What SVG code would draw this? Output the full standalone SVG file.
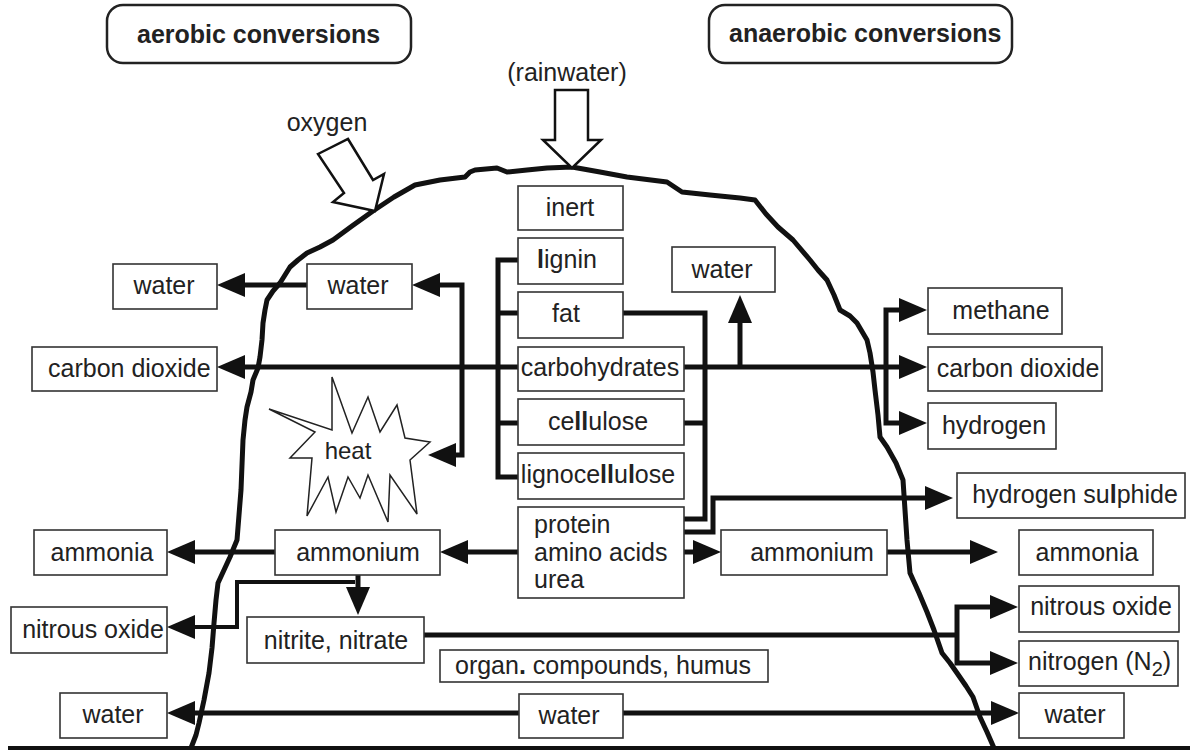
<svg xmlns="http://www.w3.org/2000/svg" width="1190" height="750" viewBox="0 0 1190 750">
<style>
text{font-family:"Liberation Sans",Arial,sans-serif;font-size:25px;fill:#222}
.hd{font-weight:bold;font-size:25px}
.box{fill:#fff;stroke:#333;stroke-width:1.6}
.hbox{fill:#fff;stroke:#222;stroke-width:2.5}
.c{fill:none;stroke:#111;stroke-width:5;stroke-linejoin:miter;stroke-linecap:butt}
.m{text-anchor:middle}
.b{font-weight:bold}
</style>
<defs>
<marker id="ah" viewBox="0 0 28 24" refX="18" refY="12" markerWidth="28" markerHeight="24" markerUnits="userSpaceOnUse" orient="auto-start-reverse">
<path d="M0,0 L28,12 L0,24 z" fill="#111"/>
</marker>
</defs>
<rect width="1190" height="750" fill="#fff"/>

<g id="heap">
<path d="M191,748 L196,735 L199,723 L204,700 L209,673 L212,648 L214,623 L216,600 L218,583 L224,570 L230,557 L237,540 L239,515 L241,490 L242,465 L243,440 L245,420 L247,407 L251,392 L253,380 L258,368 L260,357 L262,340 L263,323 L265,310 L267,300 L273,291 L280,283 L285,275 L290,267 L298,260 L307,253 L320,247 L333,240 L352,226 L373,211 L394,197 L415,185 L440,180 L465,177 L470,172 L475,170 L497,168 L507,172 L527,170 L547,168 L572,167 L600,172 L627,177 L667,182 L682,192 L710,195 L740,198 L755,200 L766,214 L778,227 L793,240 L810,260 L818,270 L827,280 L834,295 L840,310 L850,316 L857,323 L867,340 L870,353 L873,372 L875,390 L878,415 L880,437 L887,447 L896,463 L903,480 L905,510 L907,540 L910,573 L919,593 L927,612 L934,630 L942,653 L950,663 L957,673 L966,686 L973,697 L980,717 L987,732 L994,748" fill="none" stroke="#111" stroke-width="5" stroke-linejoin="round"/>
<path d="M8,748 L1190,748" stroke="#111" stroke-width="4"/>
</g>

<g id="inputs">
<text class="m" x="567" y="81">(rainwater)</text>
<polygon points="555,90 588,90 588,140 601,140 572,168 543,140 555,140" fill="#fff" stroke="#111" stroke-width="2.5" stroke-linejoin="miter"/>
<text class="m" x="327" y="131">oxygen</text>
<polygon points="318,154 348,139 373,180 384,174 375,211 333,202 344,193" fill="#fff" stroke="#111" stroke-width="2.5" stroke-linejoin="miter"/>
</g>

<g id="connectors">
<path class="c" d="M307,285 L227,285" marker-end="url(#ah)"/>
<path class="c" d="M422,285 L462,285 L462,455 L438,455" marker-start="url(#ah)" marker-end="url(#ah)"/>
<path class="c" d="M227,367 L917,367" marker-start="url(#ah)" marker-end="url(#ah)"/>
<path class="c" d="M740,367 L740,305" marker-end="url(#ah)"/>
<path class="c" d="M917,310 L886,310 L886,423 L917,423" marker-start="url(#ah)" marker-end="url(#ah)"/>
<path class="c" d="M518,260 L498,260 L498,477 L518,477"/>
<path class="c" d="M498,313 L518,313"/>
<path class="c" d="M498,423 L518,423"/>
<path class="c" d="M623,313 L705,313 L705,519 L684,519"/>
<path class="c" d="M684,423 L705,423"/>
<path class="c" d="M684,532 L713,532 L713,498 L943,498" marker-end="url(#ah)"/>
<path class="c" d="M518,552 L450,552" marker-end="url(#ah)"/>
<path class="c" d="M275,552 L177,552" marker-end="url(#ah)"/>
<path class="c" d="M684,552 L711,552" marker-end="url(#ah)"/>
<path class="c" d="M887,552 L988,552" marker-end="url(#ah)"/>
<path class="c" d="M355,582 L237,582 L237,627 L177,627" style="stroke-width:4" marker-end="url(#ah)"/>
<path class="c" d="M358,575 L358,605" marker-end="url(#ah)"/>
<path class="c" d="M424,635 L957,635"/>
<path class="c" d="M1008,607 L957,607 L957,663 L1008,663" marker-start="url(#ah)" marker-end="url(#ah)"/>
<path class="c" d="M177,713 L1009,713" marker-start="url(#ah)" marker-end="url(#ah)"/>
</g>

<g id="aerobic-label"><rect class="hbox" x="107" y="5" width="304" height="58" rx="16"/><text class="hd" x="137" y="43">aerobic conversions</text></g>
<g id="anaerobic-label"><rect class="hbox" x="709" y="5" width="303" height="58" rx="16"/><text class="hd" x="729" y="42">anaerobic conversions</text></g>

<g id="heat"><polygon points="332,377 352,433 368,397 380,432 397,405 405,438 430,442 410,460 417,514 390,475 388,522 368,475 360,498 348,477 336,512 328,477 307,516 312,458 290,458 315,432 269,409 332,430" fill="#fff" stroke="#222" stroke-width="1.5"/><text class="m" x="348" y="459" style="font-size:24px">heat</text></g>

<g id="inert"><rect class="box" x="518" y="186" width="105" height="44"/><text class="m" x="570" y="216">inert</text></g>
<g id="lignin"><rect class="box" x="518" y="238" width="105" height="46"/><text class="m" x="567" y="268"><tspan class="b">l</tspan>ignin</text></g>
<g id="fat"><rect class="box" x="518" y="292" width="105" height="46"/><text class="m" x="566" y="322">fat</text></g>
<g id="carbohydrates"><rect class="box" x="518" y="347" width="166" height="44"/><text class="m" x="600" y="376">carbohydrates</text></g>
<g id="cellulose"><rect class="box" x="518" y="399" width="166" height="46"/><text class="m" x="598" y="430">ce<tspan class="b">ll</tspan>ulose</text></g>
<g id="lignocellulose"><rect class="box" x="518" y="453" width="166" height="46"/><text class="m" x="598" y="483">lignoce<tspan class="b">ll</tspan>u<tspan class="b">l</tspan>ose</text></g>
<g id="protein"><rect class="box" x="518" y="507" width="166" height="91"/><text x="534" y="533">protein</text><text x="534" y="561">amino acids</text><text x="534" y="588">urea</text></g>
<g id="water-top"><rect class="box" x="672" y="247" width="103" height="45"/><text class="m" x="722" y="278">water</text></g>

<g id="water-outer-left"><rect class="box" x="113" y="264" width="104" height="45"/><text class="m" x="164" y="294">water</text></g>
<g id="water-inner-left"><rect class="box" x="307" y="264" width="105" height="45"/><text class="m" x="358" y="294">water</text></g>
<g id="carbon-dioxide-left"><rect class="box" x="32" y="347" width="185" height="44"/><text x="48" y="377">carbon dioxide</text></g>

<g id="methane"><rect class="box" x="928" y="288" width="134" height="46"/><text class="m" x="1001" y="319">methane</text></g>
<g id="carbon-dioxide-right"><rect class="box" x="928" y="347" width="174" height="44"/><text class="m" x="1018" y="377">carbon dioxide</text></g>
<g id="hydrogen"><rect class="box" x="928" y="403" width="128" height="46"/><text class="m" x="994" y="434">hydrogen</text></g>
<g id="hydrogen-sulphide"><rect class="box" x="957" y="473" width="228" height="45"/><text class="m" x="1075" y="503">hydrogen su<tspan class="b">l</tspan>phide</text></g>

<g id="ammonia-left"><rect class="box" x="34" y="530" width="133" height="45"/><text class="m" x="102" y="561">ammonia</text></g>
<g id="ammonium-left"><rect class="box" x="275" y="530" width="165" height="45"/><text class="m" x="358" y="561">ammonium</text></g>
<g id="ammonium-right"><rect class="box" x="721" y="530" width="166" height="45"/><text class="m" x="812" y="561">ammonium</text></g>
<g id="ammonia-right"><rect class="box" x="1019" y="530" width="134" height="45"/><text class="m" x="1087" y="561">ammonia</text></g>

<g id="nitrous-oxide-left"><rect class="box" x="11" y="607" width="156" height="46"/><text class="m" x="93" y="638">nitrous oxide</text></g>
<g id="nitrite-nitrate"><rect class="box" x="247" y="617" width="177" height="46"/><text class="m" x="336" y="649">nitrite, nitrate</text></g>
<g id="nitrous-oxide-right"><rect class="box" x="1019" y="586" width="160" height="46"/><text class="m" x="1101" y="615">nitrous oxide</text></g>
<g id="nitrogen"><rect class="box" x="1019" y="641" width="159" height="45"/><text x="1028" y="670">nitrogen (N<tspan font-size="20" dy="6">2</tspan><tspan dy="-6">)</tspan></text></g>
<g id="organic-compounds"><rect class="box" x="440" y="650" width="328" height="32"/><text class="m" x="603" y="674">organ<tspan class="b">.</tspan> compounds, humus</text></g>

<g id="water-bottom-left"><rect class="box" x="60" y="693" width="107" height="45"/><text class="m" x="113" y="723">water</text></g>
<g id="water-bottom-center"><rect class="box" x="519" y="694" width="104" height="44"/><text class="m" x="569" y="724">water</text></g>
<g id="water-bottom-right"><rect class="box" x="1019" y="693" width="105" height="45"/><text class="m" x="1075" y="723">water</text></g>
</svg>
